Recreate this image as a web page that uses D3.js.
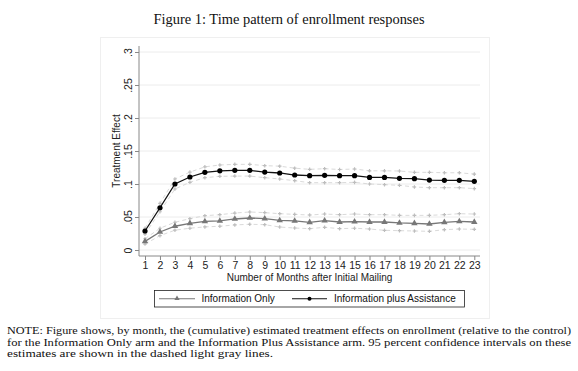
<!DOCTYPE html>
<html><head><meta charset="utf-8">
<script src="https://cdn.jsdelivr.net/npm/d3@7"></script>
<style>html,body{margin:0;padding:0;background:#fff;}</style>
</head><body>
<script>
const months = d3.range(1, 24);
const infoOnly = [.013,.0273,.036,.0404,.0434,.044,.047,.0485,.0475,.0448,.044,.042,.0444,.0424,.0429,.0424,.0424,.041,.0404,.0394,.042,.0434,.0424];
const infoHi = [.017,.033,.042,.0475,.052,.0535,.056,.0576,.0566,.055,.054,.053,.0545,.0535,.0545,.0535,.0535,.0525,.0525,.0525,.0535,.055,.0545];
const infoLo = [.009,.0217,.030,.033,.035,.036,.038,.039,.0384,.0348,.0333,.0323,.0344,.0323,.033,.0318,.0298,.0293,.0288,.0283,.0308,.0318,.0313];
const assist = [.0288,.064,.100,.1106,.1177,.120,.1207,.1207,.118,.1167,.1136,.1126,.1132,.1126,.1126,.110,.110,.1086,.108,.106,.1056,.1056,.104];
const assistHi = [.033,.0707,.1076,.118,.126,.1288,.1298,.1298,.1278,.127,.124,.1222,.1232,.122,.1227,.120,.120,.1197,.1177,.1177,.117,.117,.115];
const assistLo = [.024,.058,.0924,.1026,.1096,.1116,.112,.112,.1096,.1076,.105,.102,.102,.102,.1025,.100,.099,.098,.0955,.0944,.0944,.0944,.093];
const yTicks = [0,.05,.1,.15,.2,.25,.3];
const yTickLabels = ["0",".05",".1",".15",".2",".25",".3"];
const seriesNames = ["Information Only","Information plus Assistance"];
const title = "Figure 1: Time pattern of enrollment responses";
const noteLines = [
 "NOTE: Figure shows, by month, the (cumulative) estimated treatment effects on enrollment (relative to the control)",
 "for the Information Only arm and the Information Plus Assistance arm.  95 percent confidence intervals on these",
 "estimates are shown in the dashed light gray lines."
];

const W = 578, H = 371;
const svg = d3.select("body").append("svg").attr("width", W).attr("height", H)
  .style("font-family", "'Liberation Sans', Arial, sans-serif");
svg.append("rect").attr("width", W).attr("height", H).attr("fill", "#fff");

// title
svg.append("text").attr("x", 289).attr("y", 24).attr("text-anchor", "middle")
  .attr("font-family", "'Liberation Serif', 'DejaVu Serif', serif").attr("font-size", 14)
  .attr("textLength", 271).attr("lengthAdjust", "spacingAndGlyphs").attr("fill", "#111").text(title);

// outer graph frame
svg.append("rect").attr("x", 100.5).attr("y", 37.5).attr("width", 389).attr("height", 281)
  .attr("fill", "#fff").attr("stroke", "#efefef");

const x = d3.scaleLinear().domain([1, 23]).range([145, 474.3]);
const y = d3.scaleLinear().domain([0, .3]).range([250, 52]);
const plotL = 139, plotR = 480, plotT = 46, plotB = 256;

// gridlines
svg.append("g").selectAll("line").data(yTicks).join("line")
  .attr("x1", plotL).attr("x2", plotR).attr("y1", d => y(d)).attr("y2", d => y(d))
  .attr("stroke", "#ececec").attr("stroke-width", 1);

// y axis
const yAxis = d3.axisLeft(y).tickValues(yTicks).tickFormat((d, i) => yTickLabels[i]).tickSize(4).tickSizeOuter(0);
const gy = svg.append("g").attr("transform", `translate(${plotL},0)`).call(yAxis);
gy.select(".domain").remove();
gy.append("line").attr("x1", 0).attr("x2", 0).attr("y1", plotT).attr("y2", plotB).attr("stroke", "#888");
gy.selectAll(".tick line").attr("stroke", "#888");
gy.selectAll(".tick text").attr("font-size", 10.5).attr("fill", "#222")
  .attr("transform", function(d){ return `rotate(-90)`; })
  .attr("x", 0).attr("y", -8).attr("dy", 0).attr("text-anchor", "middle")
  .each(function(d){ d3.select(this).attr("transform", `translate(-4,0) rotate(-90)`); });
// fix rotated placement
gy.selectAll(".tick text").attr("transform", null).attr("x", null).attr("y", null)
  .attr("text-anchor", "middle").attr("transform", "translate(-7.5,0) rotate(-90)").attr("dy", "0");

// x axis
const xAxis = d3.axisBottom(x).tickValues(months).tickFormat(d3.format("d")).tickSize(4).tickSizeOuter(0);
const gx = svg.append("g").attr("transform", `translate(0,${plotB})`).call(xAxis);
gx.select(".domain").remove();
gx.append("line").attr("x1", plotL).attr("x2", plotR).attr("y1", 0).attr("y2", 0).attr("stroke", "#888");
gx.selectAll(".tick line").attr("stroke", "#888");
gx.selectAll(".tick text").attr("font-size", 10.5).attr("fill", "#222").attr("y", 6).attr("dy", "0.71em");

// axis titles
svg.append("text").attr("x", 309.5).attr("y", 280.5).attr("text-anchor", "middle").attr("font-size", 10)
  .attr("fill", "#222").text("Number of Months after Initial Mailing");
svg.append("text").attr("transform", "translate(119.5,151) rotate(-90)").attr("text-anchor", "middle")
  .attr("font-size", 10).attr("fill", "#222").text("Treatment Effect");

const line = arr => d3.line().x((d, i) => x(months[i])).y(d => y(d))(arr);

// CI lines
[infoHi, infoLo, assistHi, assistLo].forEach(arr => {
  svg.append("path").attr("d", line(arr)).attr("fill", "none").attr("stroke", "#dadada")
    .attr("stroke-width", 1).attr("stroke-dasharray", "4,3");
  svg.append("g").selectAll("path").data(arr).join("path")
    .attr("d", d3.symbol(d3.symbolCross, 7)())
    .attr("transform", (d, i) => `translate(${x(months[i])},${y(d)})`)
    .attr("fill", "#bdbdbd");
});

// main lines
svg.append("path").attr("d", line(infoOnly)).attr("fill", "none").attr("stroke", "#777").attr("stroke-width", 1.3);
svg.append("g").selectAll("path").data(infoOnly).join("path")
  .attr("d", d3.symbol(d3.symbolTriangle, 18)())
  .attr("transform", (d, i) => `translate(${x(months[i])},${y(d)})`).attr("fill", "#777");

svg.append("path").attr("d", line(assist)).attr("fill", "none").attr("stroke", "#111").attr("stroke-width", 1.3);
svg.append("g").selectAll("circle").data(assist).join("circle")
  .attr("cx", (d, i) => x(months[i])).attr("cy", d => y(d)).attr("r", 2.6).attr("fill", "#000");

// legend
const lg = svg.append("g");
lg.append("rect").attr("x", 154.5).attr("y", 290.5).attr("width", 310).attr("height", 16.5)
  .attr("fill", "#fff").attr("stroke", "#222").attr("stroke-width", 0.8);
lg.append("line").attr("x1", 159).attr("x2", 195).attr("y1", 298.7).attr("y2", 298.7).attr("stroke", "#777").attr("stroke-width", 1.1);
lg.append("path").attr("d", d3.symbol(d3.symbolTriangle, 12)()).attr("transform", "translate(177,298.5)").attr("fill", "#777");
lg.append("text").attr("x", 201.5).attr("y", 302.3).attr("font-size", 10).attr("fill", "#111").text(seriesNames[0]);
lg.append("line").attr("x1", 292).attr("x2", 327).attr("y1", 298.7).attr("y2", 298.7).attr("stroke", "#111").attr("stroke-width", 1.1);
lg.append("circle").attr("cx", 309.5).attr("cy", 298.7).attr("r", 2).attr("fill", "#000");
lg.append("text").attr("x", 334).attr("y", 302.3).attr("font-size", 10).attr("fill", "#111").text(seriesNames[1]);

// note
const noteY = [334, 345.5, 357];
const noteLen = [564, 564, 266];
noteLines.forEach((t, i) => {
  svg.append("text").attr("x", 7).attr("y", noteY[i]).attr("font-size", 11)
    .attr("font-family", "'Liberation Serif', 'DejaVu Serif', serif").attr("fill", "#111")
    .attr("textLength", noteLen[i]).attr("lengthAdjust", "spacingAndGlyphs").text(t);
});
</script>
</body></html>
